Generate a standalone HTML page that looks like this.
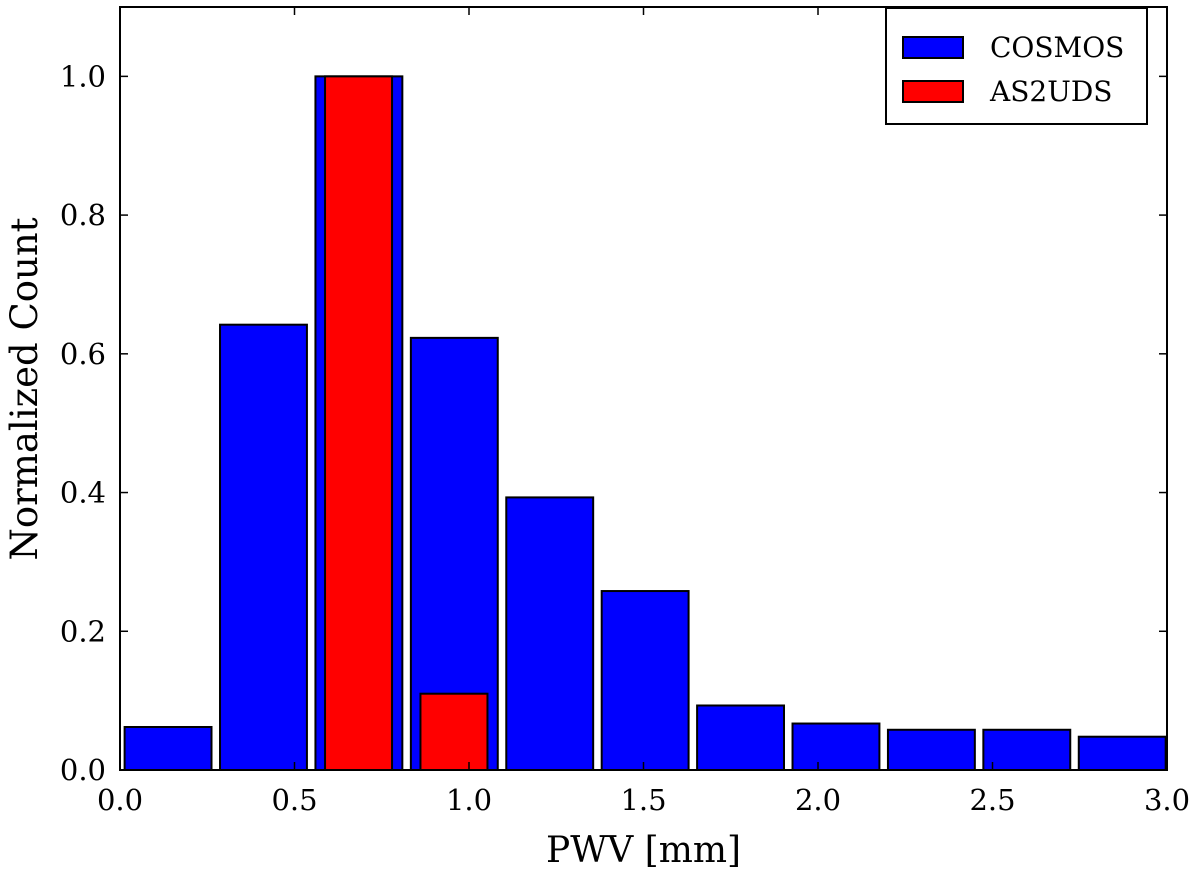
<!DOCTYPE html>
<html><head><meta charset="utf-8"><style>body{margin:0;background:#fff}svg text{font-family:"DejaVu Serif","Liberation Serif",serif;fill:#000}</style></head>
<body>
<svg id="chart" width="1200" height="877"></svg>
<script>
const binCount = 11, binRange = 3.0;
const cosmosValues = [0.062,0.642,1.0,0.623,0.393,0.258,0.093,0.067,0.058,0.058,0.048];
const as2udsValues = [0,0,1.0,0.11,0,0,0,0,0,0,0];
const xTicks = [0.0,0.5,1.0,1.5,2.0,2.5,3.0];
const yTicks = [0.0,0.2,0.4,0.6,0.8,1.0];
const L=120,R=1167,T=7,B=770;
const xs=v=>L+(v-0)/3*(R-L);
const ys=v=>B-v/1.1*(B-T);
const svg=document.getElementById('chart');
const NS='http://www.w3.org/2000/svg';
function mk(tag,attrs,parent){const e=document.createElementNS(NS,tag);for(const k in attrs)e.setAttribute(k,attrs[k]);(parent||svg).appendChild(e);return e;}
const bw=0.2734, off=0.0132;
cosmosValues.forEach((v,i)=>{
  const x0=Math.max(xs(off+i*bw),L),x1=xs(off+i*bw+0.249);
  const r=mk('rect',{x:x0,y:ys(v),width:x1-x0,height:ys(0)-ys(v),fill:'#0000ff',stroke:'#000','stroke-width':2});
  
  
});
as2udsValues.forEach((v,i)=>{
  if(v<=0)return;
  const x0=xs(off+i*bw+0.0275),x1=xs(off+i*bw+0.2195);
  const r=mk('rect',{x:x0,y:ys(v),width:x1-x0,height:ys(0)-ys(v),fill:'#ff0000',stroke:'#000','stroke-width':2});
  
  
});
const frame=mk('rect',{x:L,y:T,width:R-L,height:B-T,fill:'none',stroke:'#000','stroke-width':2});


xTicks.forEach(t=>{
  const x=xs(t);
  mk('line',{x1:x,x2:x,y1:B,y2:B-8,stroke:'#000','stroke-width':1.5});
  mk('line',{x1:x,x2:x,y1:T,y2:T+8,stroke:'#000','stroke-width':1.5});
  const tx=mk('text',{x:x,y:B+40,'text-anchor':'middle','font-size':29});
  tx.textContent=t.toFixed(1);
  
  
});
yTicks.forEach(t=>{
  const y=ys(t);
  mk('line',{x1:L,x2:L+8,y1:y,y2:y,stroke:'#000','stroke-width':1.5});
  mk('line',{x1:R,x2:R-8,y1:y,y2:y,stroke:'#000','stroke-width':1.5});
  const tx=mk('text',{x:L-14,y:y+10,'text-anchor':'end','font-size':29});
  tx.textContent=t.toFixed(1);
  
  
});
const xl=mk('text',{x:(L+R)/2,y:862,'text-anchor':'middle','font-size':36});
xl.textContent='PWV [mm]';


const yl=mk('text',{x:0,y:0,'text-anchor':'middle','font-size':37,transform:'translate(37,389) rotate(-90)'});
yl.textContent='Normalized Count';


const lg=mk('g',{});


mk('rect',{x:886,y:8,width:261,height:116,fill:'#fff',stroke:'#000','stroke-width':2},lg);
[['COSMOS','#0000ff',37],['AS2UDS','#ff0000',81]].forEach(([n,c,y])=>{
  mk('rect',{x:903,y:y,width:60,height:21,fill:c,stroke:'#000','stroke-width':2},lg);
  const t=mk('text',{x:990,y:y+20,'font-size':28},lg);
  t.textContent=n;
  
  
});
</script>
</body></html>
